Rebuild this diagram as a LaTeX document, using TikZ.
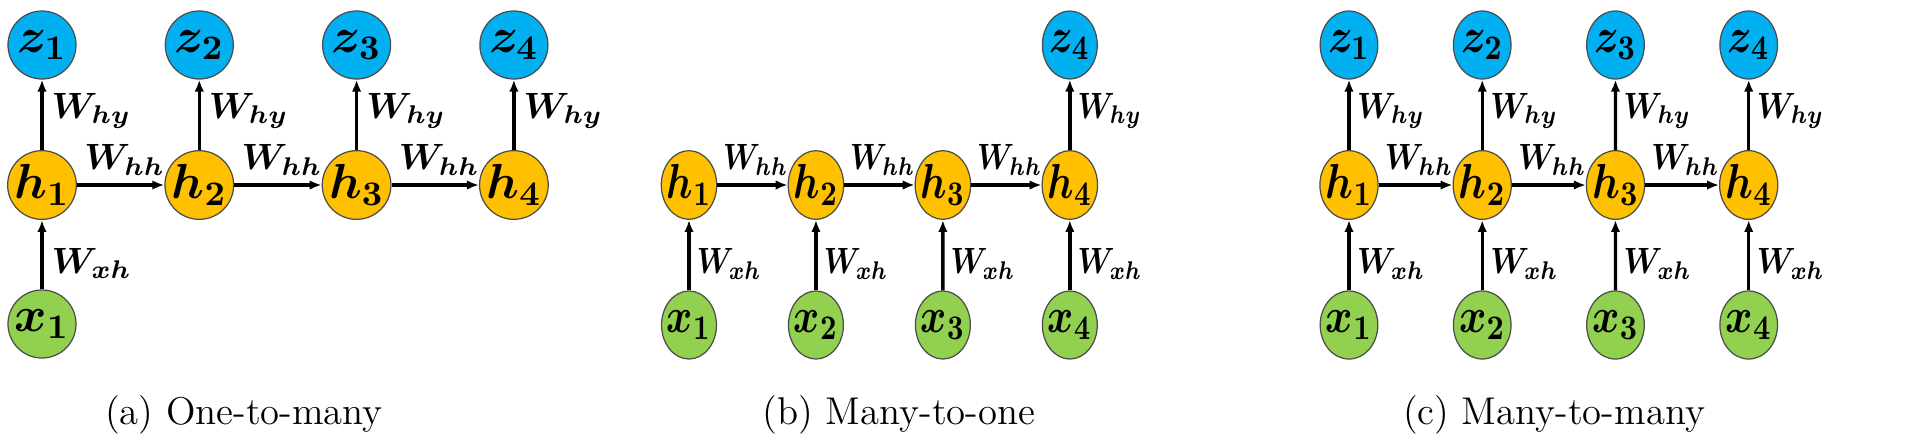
\RequirePackage{fix-cm}
\documentclass[tikz,border=0pt]{standalone}
\usepackage{amsmath}
\usetikzlibrary{arrows.meta}
\definecolor{zblue}{HTML}{00B0F0}
\definecolor{horange}{HTML}{FFC000}
\definecolor{xgreen}{HTML}{92D050}
\tikzset{
  unit/.style={circle, draw=black!70, line width=0.35pt, minimum size=0.68cm, inner sep=0pt,
    font=\fontsize{14}{16}\selectfont},
  znode/.style={unit, fill=zblue},
  hnode/.style={unit, fill=horange},
  xnode/.style={unit, fill=xgreen},
  conn/.style={line width=0.95pt, -{Latex[length=0.12cm, width=0.095cm]}},
  wlab/.style={inner sep=0pt, font=\fontsize{10.4}{12}\selectfont},
  hylab/.style={wlab, anchor=west, xshift=0.08cm, yshift=0.04cm},
  xhlab/.style={wlab, anchor=west, xshift=0.08cm, yshift=-0.09cm},
  hhlab/.style={wlab, anchor=south, xshift=0.04cm, yshift=0.08cm},
  captext/.style={font=\fontsize{11}{13}\selectfont, anchor=base, inner sep=0pt},
}
\begin{document}
\begin{tikzpicture}[x=0.01cm, y=0.01cm]
\useasboundingbox (0,0) rectangle (1920,441);

% ---------- (a) One-to-many ----------
\begin{scope}[shift={(42,0)}]
  \foreach \i in {1,...,4} {
    \node[hnode] (a-h\i) at ({(\i-1)*157.3},256) {$\boldsymbol{h_{\i}}$};
    \node[znode] (a-z\i) at ({(\i-1)*157.3},396) {$\boldsymbol{z_{\i}}$};
  }
  \node[xnode] (a-x1) at (0,117) {$\boldsymbol{x_{1}}$};
  \foreach \i in {1,...,4}
    \draw[conn] (a-h\i) -- (a-z\i) node[hylab, pos=0.5] {$\boldsymbol{W_{hy}}$};
  \foreach \i/\j in {1/2,2/3,3/4}
    \draw[conn] (a-h\i) -- (a-h\j) node[hhlab, pos=0.5] {$\boldsymbol{W_{hh}}$};
  \draw[conn] (a-x1) -- (a-h1) node[xhlab, pos=0.5] {$\boldsymbol{W_{xh}}$};
\end{scope}

% ---------- (b) Many-to-one ----------
\begin{scope}[shift={(689,0)}, xscale=0.807, transform shape]
  \foreach \i in {1,...,4} {
    \node[hnode] (b-h\i) at ({(\i-1)*157.3},256) {$\boldsymbol{h_{\i}}$};
    \node[xnode] (b-x\i) at ({(\i-1)*157.3},116) {$\boldsymbol{x_{\i}}$};
  }
  \node[znode] (b-z4) at ({3*157.3},396) {$\boldsymbol{z_{4}}$};
  \foreach \i in {1,...,4}
    \draw[conn] (b-x\i) -- (b-h\i) node[xhlab, pos=0.5] {$\boldsymbol{W_{xh}}$};
  \foreach \i/\j in {1/2,2/3,3/4}
    \draw[conn] (b-h\i) -- (b-h\j) node[hhlab, pos=0.5] {$\boldsymbol{W_{hh}}$};
  \draw[conn] (b-h4) -- (b-z4) node[hylab, pos=0.5] {$\boldsymbol{W_{hy}}$};
\end{scope}

% ---------- (c) Many-to-many ----------
\begin{scope}[shift={(1349,0)}, xscale=0.847, transform shape]
  \foreach \i in {1,...,4} {
    \node[hnode] (c-h\i) at ({(\i-1)*157.3},256) {$\boldsymbol{h_{\i}}$};
    \node[xnode] (c-x\i) at ({(\i-1)*157.3},116) {$\boldsymbol{x_{\i}}$};
    \node[znode] (c-z\i) at ({(\i-1)*157.3},396) {$\boldsymbol{z_{\i}}$};
  }
  \foreach \i in {1,...,4} {
    \draw[conn] (c-x\i) -- (c-h\i) node[xhlab, pos=0.5] {$\boldsymbol{W_{xh}}$};
    \draw[conn] (c-h\i) -- (c-z\i) node[hylab, pos=0.5] {$\boldsymbol{W_{hy}}$};
  }
  \foreach \i/\j in {1/2,2/3,3/4}
    \draw[conn] (c-h\i) -- (c-h\j) node[hhlab, pos=0.5] {$\boldsymbol{W_{hh}}$};
\end{scope}

% ---------- captions ----------
\node[captext] (capa) at (244,17) {(a) One-to-many};
\node[captext] (capb) at (899,17) {(b) Many-to-one};
\node[captext] (capc) at (1554,17) {(c) Many-to-many};
\end{tikzpicture}
\end{document}
